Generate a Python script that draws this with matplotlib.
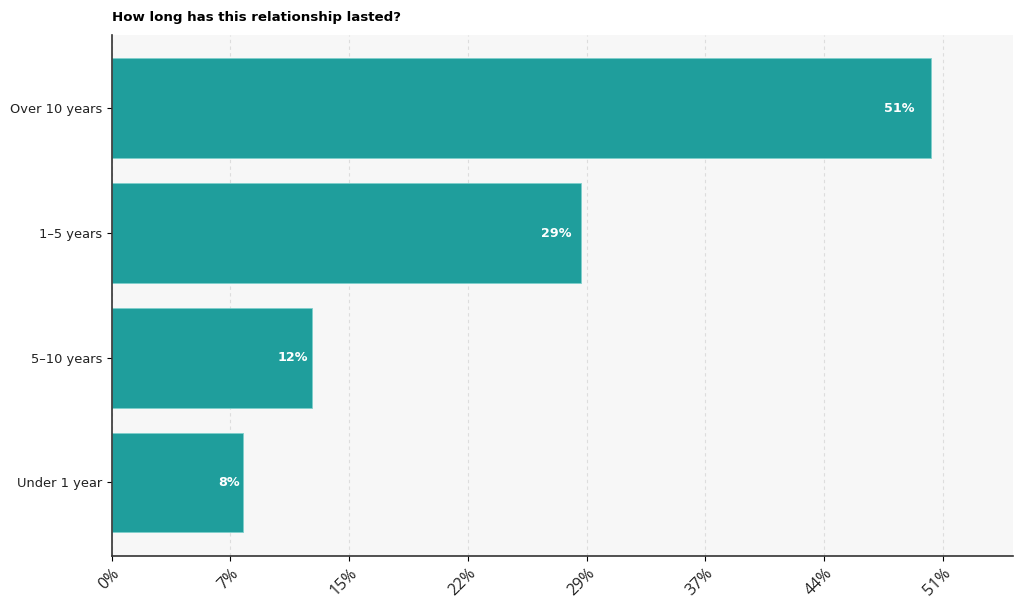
import numpy as np
from matplotlib import pyplot as plt
from matplotlib.ticker import FixedLocator, FuncFormatter

plt.rcParams["font.family"] = "DejaVu Sans"

# datos (de abajo hacia arriba)
categorias = ["Under 1 year", "5–10 years", "1–5 years", "Over 10 years"]
valores = [8.1, 12.4, 29.0, 50.6]
etiquetas = ["8%", "12%", "29%", "51%"]

fig, ax = plt.subplots(figsize=(10.24, 6.09), dpi=100)
fig.subplots_adjust(left=0.109, right=0.989, top=0.943, bottom=0.087)
ax.set_facecolor("#f7f7f7")

y = np.arange(len(categorias))
ax.barh(y, valores, height=0.8, color="#1f9e9c", edgecolor="#7fcfcc", linewidth=0.6, zorder=2)

# etiquetas dentro de la barra
for yi, v, t in zip(y, valores, etiquetas):
    ax.text(v * 0.98, yi, t, ha="right", va="center", color="white",
            fontsize=9.2, fontweight="bold", zorder=3)

ax.set_yticks(y)
ax.set_yticklabels(categorias, fontsize=9.4, color="#222222")

paso = max(valores) / 6.9
ax.set_xlim(0, max(valores) * 1.1)
ax.xaxis.set_major_locator(FixedLocator([i * paso for i in range(8)]))
ax.xaxis.set_major_formatter(FuncFormatter(lambda x, p: f"{x:.0f}%"))
ax.tick_params(axis="x", labelsize=11.5, labelcolor="#222222", labelfontfamily="Open Sans")
plt.setp(ax.get_xticklabels(), rotation=45, ha="right", rotation_mode="anchor")

ax.grid(axis="x", linestyle=(0, (3, 3)), color="#dddddd", linewidth=0.8, zorder=0)
ax.set_axisbelow(True)
for s in ["top", "right"]:
    ax.spines[s].set_visible(False)
for s in ["left", "bottom"]:
    ax.spines[s].set_color("#333333")
    ax.spines[s].set_linewidth(1.2)

ax.set_title("How long has this relationship lasted?", loc="left",
             fontsize=9.6, fontweight="bold", pad=10)

plt.savefig("out.png", dpi=100)
